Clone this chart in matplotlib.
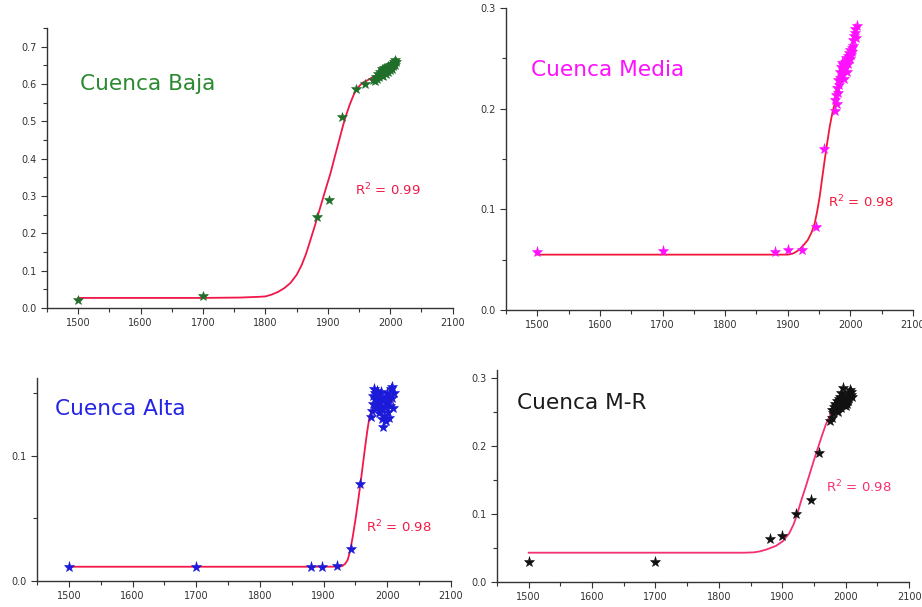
"""Logistic growth fits for the four Cuenca sub-basins."""

import matplotlib.pyplot as plt
from matplotlib.ticker import MultipleLocator

# ---- Cuenca Baja ----
baja_years = [1500, 1700, 1882, 1902, 1922, 1945, 1960,
              1972, 1975, 1977, 1979, 1980, 1982, 1983, 1985, 1986, 1988, 1989,
              1990, 1991, 1992, 1993, 1994, 1995, 1996, 1997, 1998, 1999, 2000,
              2001, 2002, 2003, 2004, 2005, 2006, 2007, 2008, 2009]
baja_vals = [0.022, 0.033, 0.245, 0.289, 0.513, 0.587, 0.600,
             0.612, 0.608, 0.620, 0.615, 0.628, 0.618, 0.632, 0.625, 0.640, 0.622, 0.635,
             0.643, 0.630, 0.638, 0.627, 0.645, 0.636, 0.648, 0.633, 0.641, 0.650, 0.637,
             0.646, 0.652, 0.640, 0.655, 0.648, 0.660, 0.651, 0.664, 0.658]
baja_fit_x = [1500, 1700, 1760, 1790, 1800, 1810, 1820, 1830, 1840, 1850, 1858, 1865,
              1872, 1880, 1888, 1896, 1904, 1911, 1918, 1923, 1928, 1935, 1942, 1947,
              1952, 1957, 1963, 1970, 1980, 1990, 2000, 2008]
baja_fit_y = [0.027, 0.027, 0.028, 0.030, 0.031, 0.036, 0.043, 0.053, 0.067, 0.089, 0.115, 0.145,
              0.182, 0.225, 0.271, 0.316, 0.360, 0.405, 0.449, 0.481, 0.511, 0.545, 0.574, 0.588,
              0.598, 0.605, 0.610, 0.617, 0.626, 0.632, 0.638, 0.641]

# ---- Cuenca Media ----
media_years = [1500, 1700, 1880, 1900, 1922, 1945, 1958,
               1975, 1976, 1977, 1978, 1979, 1980, 1981, 1982, 1983, 1984, 1985, 1986,
               1987, 1988, 1989, 1990, 1991, 1992, 1993, 1994, 1995, 1996, 1997, 1998,
               1999, 2000, 2001, 2002, 2003, 2004, 2005, 2006, 2007, 2008, 2009, 2010]
media_vals = [0.058, 0.059, 0.058, 0.060, 0.060, 0.082, 0.160,
              0.198, 0.209, 0.214, 0.205, 0.221, 0.216, 0.228, 0.224, 0.236, 0.230, 0.241, 0.233,
              0.245, 0.238, 0.243, 0.229, 0.246, 0.240, 0.250, 0.236, 0.247, 0.252, 0.244, 0.255,
              0.249, 0.258, 0.253, 0.260, 0.256, 0.268, 0.262, 0.272, 0.275, 0.279, 0.270, 0.282]
media_fit_x = [1500, 1700, 1873, 1900, 1908, 1914, 1920, 1926, 1932, 1938, 1943, 1947,
               1951, 1955, 1959, 1963, 1967, 1971, 1975, 1980, 1986, 1992, 1999, 2007]
media_fit_y = [0.055, 0.055, 0.055, 0.055, 0.056, 0.058, 0.061, 0.065, 0.0695, 0.077, 0.086, 0.098,
               0.1125, 0.131, 0.149, 0.166, 0.182, 0.195, 0.205, 0.217, 0.228, 0.238, 0.248, 0.258]

# ---- Cuenca Alta ----
alta_years = [1500, 1700, 1880, 1898, 1921, 1943, 1957,
              1975, 1976, 1977, 1978, 1979, 1980, 1981, 1982, 1983, 1984, 1985, 1986,
              1987, 1988, 1989, 1990, 1991, 1992, 1993, 1994, 1995, 1996, 1997, 1998,
              1999, 2000, 2001, 2002, 2003, 2004, 2005, 2006, 2007, 2008, 2009, 2010]
alta_vals = [0.0114, 0.0114, 0.0114, 0.0114, 0.012, 0.0256, 0.0776,
             0.131, 0.136, 0.141, 0.148, 0.153, 0.145, 0.150, 0.138, 0.147, 0.152, 0.143, 0.149,
             0.134, 0.146, 0.140, 0.151, 0.129, 0.137, 0.144, 0.123, 0.132, 0.147, 0.139, 0.128,
             0.142, 0.150, 0.135, 0.145, 0.130, 0.148, 0.140, 0.153, 0.146, 0.155, 0.138, 0.150]
alta_fit_x = [1500, 1700, 1900, 1926, 1930, 1934, 1938, 1942, 1946, 1950, 1954, 1958,
              1962, 1966, 1969, 1972, 1976, 1981, 1994, 2008]
alta_fit_y = [0.0114, 0.0114, 0.0114, 0.0115, 0.0122, 0.0138, 0.017, 0.0248, 0.036, 0.0488, 0.063,
              0.078, 0.094, 0.110, 0.121, 0.1305, 0.1365, 0.1408, 0.143, 0.143]

# ---- Cuenca M-R ----
mr_years = [1500, 1700, 1880, 1900, 1921, 1945, 1958,
            1976, 1978, 1979, 1980, 1981, 1982, 1983, 1984, 1985, 1986, 1987, 1988,
            1989, 1990, 1991, 1992, 1993, 1994, 1995, 1996, 1997, 1998, 1999, 2000,
            2001, 2002, 2003, 2004, 2005, 2006, 2007, 2008, 2009, 2010]
mr_vals = [0.030, 0.030, 0.063, 0.067, 0.100, 0.121, 0.189,
           0.236, 0.241, 0.252, 0.248, 0.257, 0.253, 0.262, 0.258, 0.255, 0.265, 0.260, 0.250,
           0.268, 0.263, 0.272, 0.256, 0.278, 0.266, 0.285, 0.270, 0.260, 0.275, 0.264, 0.258,
           0.268, 0.262, 0.273, 0.266, 0.277, 0.270, 0.282, 0.274, 0.279, 0.272]
mr_fit_x = [1500, 1700, 1840, 1855, 1865, 1876, 1890, 1901, 1911, 1918, 1924, 1930, 1937,
            1944, 1950, 1957, 1963, 1969, 1974, 1982, 1990, 2005]
mr_fit_y = [0.043, 0.043, 0.043, 0.0435, 0.045, 0.048, 0.053, 0.060, 0.0715, 0.085, 0.101, 0.120,
            0.140, 0.161, 0.179, 0.199, 0.216, 0.232, 0.242, 0.253, 0.260, 0.270]

panels = [
    # name, years, vals, fit x, fit y, marker colour, label colour, R2, rect, ylim top,
    # title pos, R2 pos, line colour, marker size
    ("Cuenca Baja", baja_years, baja_vals, baja_fit_x, baja_fit_y, "#1f6e2a", "#2b8a30", "0.99",
     [0.051, 0.4926, 0.440, 0.461], 0.75, (1503, 0.60), (1944, 0.316), "#f01848", 7),
    ("Cuenca Media", media_years, media_vals, media_fit_x, media_fit_y, "#ff10ff", "#ff10ff", "0.98",
     [0.5488, 0.4893, 0.4414, 0.4975], 0.30, (1490, 0.238), (1965, 0.107), "#f21838", 8),
    ("Cuenca Alta", alta_years, alta_vals, alta_fit_x, alta_fit_y, "#1a1ad8", "#2424e6", "0.98",
     [0.0401, 0.0428, 0.449, 0.3344], 0.162, (1479, 0.1376), (1966, 0.043), "#f41848", 8),
    ("Cuenca M-R", mr_years, mr_vals, mr_fit_x, mr_fit_y, "#111111", "#1a1a1a", "0.98",
     [0.539, 0.0412, 0.447, 0.349], 0.311, (1482, 0.263), (1969, 0.139), "#f53070", 8),
]

fig = plt.figure(figsize=(9.22, 6.07), dpi=100)

for name, xs, ys, fx, fy, col, tcol, r2, rect, ytop, tpos, rpos, lcol, ms in panels:
    ax = fig.add_axes(rect)
    ax.plot(fx, fy, color=lcol, lw=1.3, zorder=2)
    ax.plot(xs, ys, linestyle="none", marker="*", markersize=ms,
            color=col, markeredgewidth=0.4, zorder=3)
    ax.text(tpos[0], tpos[1], name, color=tcol, fontsize=15.6, va="center", ha="left")
    ax.text(rpos[0], rpos[1], "R$^2$ = " + r2, color=lcol, fontsize=9.5, va="center", ha="left")

    ax.set_xlim(1450, 2100)
    ax.set_ylim(0, ytop)
    ax.xaxis.set_major_locator(MultipleLocator(100))
    ax.xaxis.set_minor_locator(MultipleLocator(50))
    ax.yaxis.set_major_locator(MultipleLocator(0.1))
    ax.yaxis.set_minor_locator(MultipleLocator(0.05))
    ax.yaxis.set_major_formatter(plt.FormatStrFormatter("%.1f"))
    ax.tick_params(which="major", direction="out", length=4, width=0.8,
                   labelsize=7, colors="#333333")
    ax.tick_params(which="minor", direction="out", length=3, width=0.8, colors="#333333")
    for side in ["top", "right"]:
        ax.spines[side].set_visible(False)
    for side in ["left", "bottom"]:
        ax.spines[side].set_color("#333333")
        ax.spines[side].set_linewidth(1.0)

fig.savefig("out.png", dpi=100)
